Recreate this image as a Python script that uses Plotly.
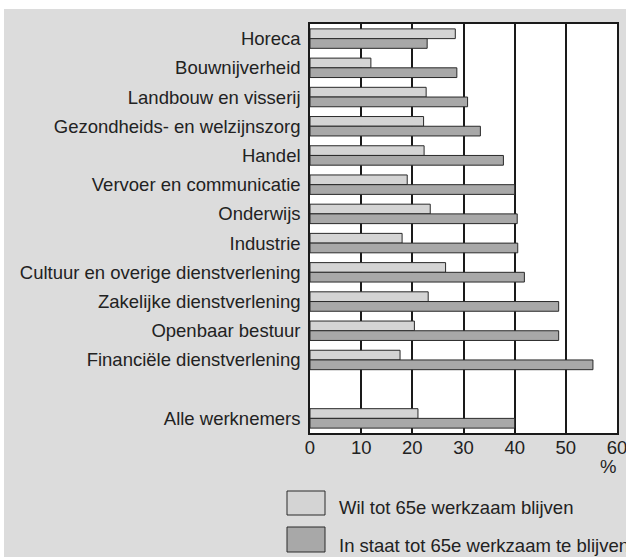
import plotly.graph_objects as go

categories = ["Horeca", "Bouwnijverheid", "Landbouw en visserij", "Gezondheids- en welzijnszorg",
              "Handel", "Vervoer en communicatie", "Onderwijs", "Industrie",
              "Cultuur en overige dienstverlening", "Zakelijke dienstverlening", "Openbaar bestuur",
              "Financiële dienstverlening", " ", "Alle werknemers"]
wil = [28.4, 11.9, 22.7, 22.2, 22.3, 19.0, 23.5, 18.0, 26.5, 23.1, 20.4, 17.6, None, 21.1]
instaat = [22.9, 28.7, 30.8, 33.3, 37.8, 40.0, 40.5, 40.6, 41.9, 48.6, 48.6, 55.3, None, 40.0]
series_names = ["Wil tot 65e werkzaam blijven", "In staat tot 65e werkzaam te blijven"]
x_ticks = [0, 10, 20, 30, 40, 50, 60]

W, H = 626, 557
L, R, T, B = 310, 617, 24, 433
BG = "#dcdcdc"
LIGHT = "#d4d4d4"
DARK = "#a8a8a8"
FONT = "Liberation Sans, Arial, sans-serif"
FS = 18.5


def xp(px):
    return (px - L) / (R - L)


def yp(py):
    return (B - py) / (B - T)


fig = go.Figure()
fig.add_trace(go.Bar(y=categories, x=wil, orientation="h", name=series_names[0],
                     marker=dict(color=LIGHT, line=dict(color="#2a2a2a", width=1))))
fig.add_trace(go.Bar(y=categories, x=instaat, orientation="h", name=series_names[1],
                     marker=dict(color=DARK, line=dict(color="#2a2a2a", width=1))))

shapes = [
    # thin white border at top and left of the image
    dict(type="rect", xref="paper", yref="paper", x0=xp(-2), x1=xp(W + 2), y0=yp(9), y1=yp(-2),
         fillcolor="white", line=dict(width=0), layer="below"),
    dict(type="rect", xref="paper", yref="paper", x0=xp(-2), x1=xp(4), y0=yp(H + 2), y1=yp(-2),
         fillcolor="white", line=dict(width=0), layer="below"),
    # legend boxes
    dict(type="rect", xref="paper", yref="paper", x0=xp(287), x1=xp(325), y0=yp(491), y1=yp(515),
         fillcolor=LIGHT, line=dict(color="#2a2a2a", width=1)),
    dict(type="rect", xref="paper", yref="paper", x0=xp(287), x1=xp(325), y0=yp(527), y1=yp(552),
         fillcolor=DARK, line=dict(color="#2a2a2a", width=1)),
]

annotations = [
    dict(text="%", xref="paper", yref="paper", x=xp(618), y=yp(466), xanchor="right", yanchor="middle",
         showarrow=False, font=dict(size=FS, family=FONT, color="#222")),
    dict(text=series_names[0], xref="paper", yref="paper", x=xp(337), y=yp(508), xanchor="left",
         yanchor="middle", showarrow=False, font=dict(size=FS, family=FONT, color="#222")),
    dict(text=series_names[1], xref="paper", yref="paper", x=xp(337), y=yp(545), xanchor="left",
         yanchor="middle", showarrow=False, font=dict(size=FS, family=FONT, color="#222")),
]

fig.update_layout(
    width=W, height=H, autosize=False,
    margin=dict(l=L, r=W - R, t=T, b=H - B, pad=0, autoexpand=False),
    paper_bgcolor=BG, plot_bgcolor="white",
    barmode="group", bargap=0.335, bargroupgap=0,
    showlegend=False,
    font=dict(family=FONT, size=FS, color="#222"),
    shapes=shapes, annotations=annotations,
)
fig.update_xaxes(range=[0, 60], tickvals=x_ticks, showgrid=True, gridcolor="#1a1a1a", gridwidth=1.5,
                 showline=True, mirror=True, linecolor="#1a1a1a", linewidth=1.5, zeroline=False,
                 ticks="", ticklabelstandoff=-3, tickfont=dict(size=FS), automargin=False,
                 ticklabeloverflow="allow")
fig.update_yaxes(autorange="reversed", showgrid=False, showline=True, mirror=True,
                 linecolor="#1a1a1a", linewidth=1.5, ticks="", ticklabelstandoff=4,
                 tickfont=dict(size=FS), automargin=False, ticklabeloverflow="allow")

fig.write_html("out.html", config={"displayModeBar": False},
               post_script="document.body.style.margin='0';"
                           "document.body.style.background='" + BG + "';"
                           "document.body.style.overflow='hidden';")
